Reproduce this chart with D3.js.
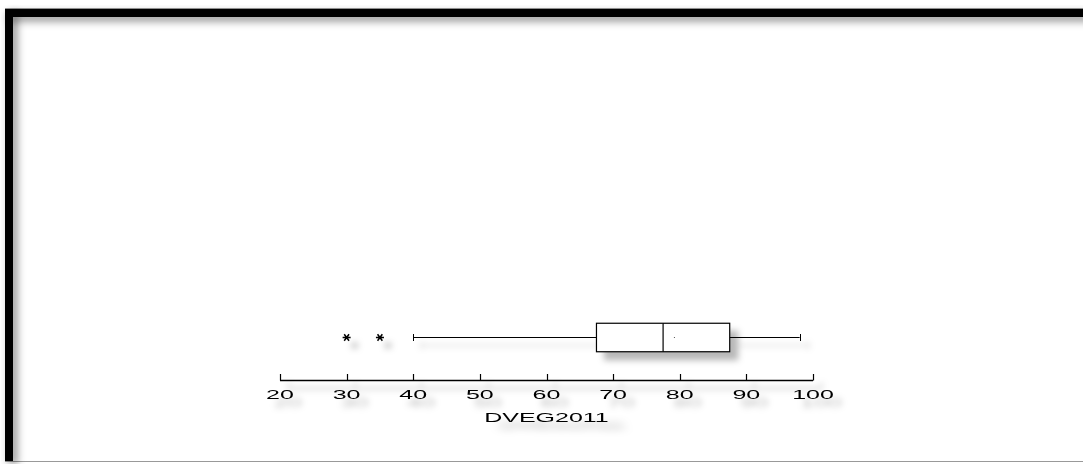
<!DOCTYPE html>
<html><head><meta charset="utf-8">
<script src="https://cdn.jsdelivr.net/npm/d3@7"></script>
<style>html,body{margin:0;padding:0;background:#fff;}svg{display:block;}</style>
</head><body>
<svg id="c" width="1083" height="464"></svg>
<script>
const variableName = "DVEG2011";
const tickValues = [20, 30, 40, 50, 60, 70, 80, 90, 100];
const whiskerLow = 40, q1 = 67.5, median = 77.5, q3 = 87.5, whiskerHigh = 98, meanValue = 79.2;
const outliers = [30, 35];

const svg = d3.select("#c");
const defs = svg.append("defs");
const f = defs.append("filter").attr("id","sh").attr("x","-50%").attr("y","-50%").attr("width","300%").attr("height","300%");
f.append("feDropShadow").attr("dx",8).attr("dy",8).attr("stdDeviation",3).attr("flood-color","#000").attr("flood-opacity",0.28);
const fb = defs.append("filter").attr("id","fsh").attr("x","-5%").attr("y","-50%").attr("width","110%").attr("height","400%");
fb.append("feDropShadow").attr("dx",4).attr("dy",4).attr("stdDeviation",4).attr("flood-color","#000").attr("flood-opacity",0.45);
const fl = defs.append("filter").attr("id","fshl").attr("x","-50%").attr("y","-5%").attr("width","400%").attr("height","110%");
fl.append("feDropShadow").attr("dx",4).attr("dy",4).attr("stdDeviation",4).attr("flood-color","#000").attr("flood-opacity",0.45);

// frame
svg.append("rect").attr("x",5.5).attr("y",8.5).attr("width",1090).attr("height",453).attr("fill","#fff").attr("stroke","#999").attr("stroke-width",1);
svg.append("rect").attr("x",5).attr("y",9).attr("width",1090).attr("height",8).attr("fill","#000").attr("filter","url(#fsh)");
svg.append("rect").attr("x",5).attr("y",9).attr("width",8).attr("height",452).attr("fill","#000").attr("filter","url(#fshl)");

const x = d3.scaleLinear().domain([20,100]).range([280,813]);
const yc = 337.5, bh = 28.5;
const g = svg.append("g").attr("filter","url(#sh)");

// whiskers
g.append("line").attr("x1",x(whiskerLow)).attr("x2",x(q1)).attr("y1",yc).attr("y2",yc).attr("stroke","#000");
g.append("line").attr("x1",x(q3)).attr("x2",x(whiskerHigh)).attr("y1",yc).attr("y2",yc).attr("stroke","#000");
[whiskerLow, whiskerHigh].forEach(v=>{
  g.append("line").attr("x1",Math.round(x(v))+0.5).attr("x2",Math.round(x(v))+0.5).attr("y1",yc-3.5).attr("y2",yc+3.5).attr("stroke","#000");
});
// box
g.append("rect").attr("x",x(q1)).attr("y",yc-bh/2).attr("width",x(q3)-x(q1)).attr("height",bh).attr("fill","#fff").attr("stroke","#000").attr("stroke-width",1.2);
g.append("line").attr("x1",x(median)).attr("x2",x(median)).attr("y1",yc-bh/2).attr("y2",yc+bh/2).attr("stroke","#000").attr("stroke-width",1.2);
g.append("rect").attr("x",x(meanValue)-0.5).attr("y",yc-0.5).attr("width",1).attr("height",1).attr("fill","#555");
// outliers (asterisks)
outliers.forEach(v=>{
  const cx = x(v), r = 4;
  const p = d3.path();
  p.moveTo(cx-r, yc); p.lineTo(cx+r, yc);
  p.moveTo(cx-r*0.6, yc-r*0.8); p.lineTo(cx+r*0.6, yc+r*0.8);
  p.moveTo(cx-r*0.6, yc+r*0.8); p.lineTo(cx+r*0.6, yc-r*0.8);
  g.append("path").attr("d",p.toString()).attr("stroke","#000").attr("stroke-width",1.5).attr("fill","none");
});

// axis
const ay = 380;
const ax = svg.append("g").attr("transform",`translate(0,${ay})`).attr("filter","url(#sh)");
ax.append("line").attr("x1",x(20)).attr("x2",x(100)).attr("y1",0.5).attr("y2",0.5).attr("stroke","#000").attr("stroke-width",1.3);
tickValues.forEach(t=>{
  const tx = Math.round(x(t))+0.5;
  ax.append("line").attr("x1",tx).attr("x2",tx).attr("y1",-6).attr("y2",0.5).attr("stroke","#000").attr("stroke-width",1.2);
  ax.append("text").attr("transform",`translate(${x(t)},${18.5}) scale(2,1)`)
    .attr("text-anchor","middle").attr("font-family","Liberation Sans, Arial, sans-serif").attr("font-size",12.5).attr("fill","#000").text(t);
});
svg.append("text").attr("transform",`translate(${(x(20)+x(100))/2},${422}) scale(2,1)`)
  .attr("filter","url(#sh)")
  .attr("text-anchor","middle").attr("font-family","Liberation Sans, Arial, sans-serif").attr("font-size",12.5).attr("fill","#000").text(variableName);
</script>
</body></html>
